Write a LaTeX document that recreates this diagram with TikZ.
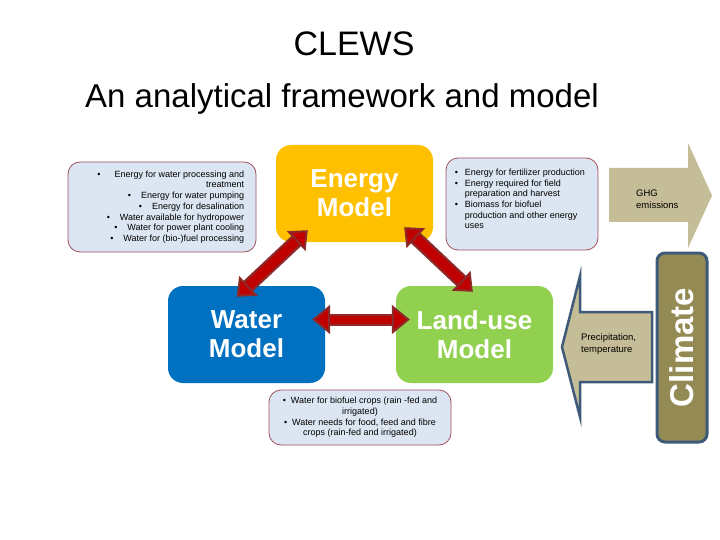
\documentclass[tikz,border=0pt]{standalone}
\usepackage{fontspec}
\setmainfont{Liberation Sans}
\usetikzlibrary{arrows.meta,calc}
\definecolor{eyellow}{HTML}{FFC000}
\definecolor{wblue}{HTML}{0070C0}
\definecolor{lgreen}{HTML}{92D050}
\definecolor{tfill}{HTML}{DCE6F2}
\definecolor{tborder}{HTML}{A05060}
\definecolor{ared}{HTML}{C00000}
\definecolor{ardark}{HTML}{8C2A2A}
\definecolor{khaki}{HTML}{C4BD97}
\definecolor{olivec}{HTML}{948A54}
\definecolor{slate}{HTML}{3F5A78}
% #1,#2 end points; #3 outer shaft, #4 inner shaft, #5 head width, #6 head length
\newcommand\redconn[6]{%
  \draw[line width=#3, ardark, shorten <=#6-2pt, shorten >=#6-2pt] #1 -- #2;
  \draw[line width=#4, ared,
    {Triangle[width=#5,length=#6,fill=ared,color=ardark,line width=2pt]}-{Triangle[width=#5,length=#6,fill=ared,color=ardark,line width=2pt]}] #1 -- #2;}
\begin{document}
\begin{tikzpicture}[x=1pt,y=-1pt,
  model/.style={rounded corners=15pt, minimum width=157pt, minimum height=97pt,
    text=white, font=\fontsize{26}{29}\selectfont\bfseries, align=center, inner sep=0pt},
  tbox/.style={draw=tborder, line width=0.8pt, fill=tfill, rounded corners=12pt, inner sep=0pt},
  small/.style={font=\fontsize{9}{10.7}\selectfont, inner sep=0pt}]
\useasboundingbox (0,0) rectangle (720,540);
\fill[white] (0,0) rectangle (720,540);

% titles
\node[font=\fontsize{34}{40}\selectfont, inner sep=0pt] (t1) at (354,43.5) {CLEWS};
\node[font=\fontsize{33}{40}\selectfont, inner sep=0pt] (t2) at (342,98.5) {An analytical framework and model};

% text boxes
\node[tbox, minimum width=188pt, minimum height=90pt] (lb) at (162,207) {};
\node[small, align=right, anchor=east] (lt) at ([xshift=-12pt]lb.east)
  {•\hspace{14pt}Energy for water processing and\\
   treatment\\
   •\hspace{10pt}Energy for water pumping\\
   •\hspace{10pt}Energy for desalination\\
   •\hspace{10pt}Water available for hydropower\\
   •\hspace{10pt}Water for power plant cooling\\
   •\hspace{10pt}Water for (bio-)fuel processing};

\node[tbox, minimum width=152pt, minimum height=92pt] (rb) at (522,204) {};
\node[small, align=left, anchor=north west] (rt) at ([shift={(9,11)}]rb.north west)
  {\makebox[10pt][l]{•}Energy for fertilizer production\\
   \makebox[10pt][l]{•}Energy required for field\\
   \hspace*{10pt}preparation and harvest\\
   \makebox[10pt][l]{•}Biomass for biofuel\\
   \hspace*{10pt}production and other energy\\
   \hspace*{10pt}uses};

\node[tbox, minimum width=182pt, minimum height=55pt] (bb) at (360,417.5) {};
\node[small, align=center] (bt) at (bb.center)
  {•\hspace{5pt}Water for biofuel crops  (rain -fed and\\
   irrigated)\\
   •\hspace{5pt}Water needs for food, feed and fibre\\
   crops (rain-fed and irrigated)};

% model boxes
\node[model, fill=eyellow] (E) at (354.5,193.5) {Energy\\Model};
\node[model, fill=wblue] (W) at (246.5,334.5) {Water\\Model};
\node[model, fill=lgreen] (L) at (474.5,334.5) {Land-use\\Model};

% red connectors
\coordinate (e1) at ([shift={(32,-12)}]E.south west);
\coordinate (w1) at ([shift={(69,11)}]W.north west);
\coordinate (e2) at ([shift={(-29,-15)}]E.south east);
\coordinate (l1) at ([shift={(77,6)}]L.north west);
\coordinate (w2) at ([shift={(-13,-15)}]W.east);
\coordinate (l2) at ([shift={(14,-15)}]L.west);
\redconn{(e1)}{(w1)}{14pt}{9.5pt}{27pt}{16pt}
\redconn{(e2)}{(l1)}{14pt}{9.5pt}{27pt}{16pt}
\redconn{(w2)}{(l2)}{12pt}{8pt}{29pt}{18pt}

% GHG arrow
\fill[khaki] (609,168) -- (688,168) -- (688,143) -- (712,195.5) -- (688,248)
  -- (688,222) -- (609,222) -- cycle;
\node[font=\fontsize{9.5}{12}\selectfont, align=left, anchor=west, inner sep=0pt] (ghg)
  at (636,199) {GHG\\emissions};

% precipitation arrow
\filldraw[fill=khaki, draw=slate, line width=2.5pt, line join=miter]
  (652,312) -- (580,312) -- (580,276) -- (562,347) -- (580,417) -- (580,382)
  -- (652,382) -- cycle;
\node[font=\fontsize{9.5}{12}\selectfont, align=left, anchor=west, inner sep=0pt] (pt)
  at (581,344) {Precipitation,\\temperature};

% climate
\node[draw=slate, line width=3pt, fill=olivec, rounded corners=8pt, rotate=90,
  minimum width=189pt, minimum height=50pt, inner sep=0pt, text=white,
  font=\fontsize{33}{33}\selectfont\bfseries] (clim) at (682,347.5) {Climate};
\end{tikzpicture}
\end{document}
